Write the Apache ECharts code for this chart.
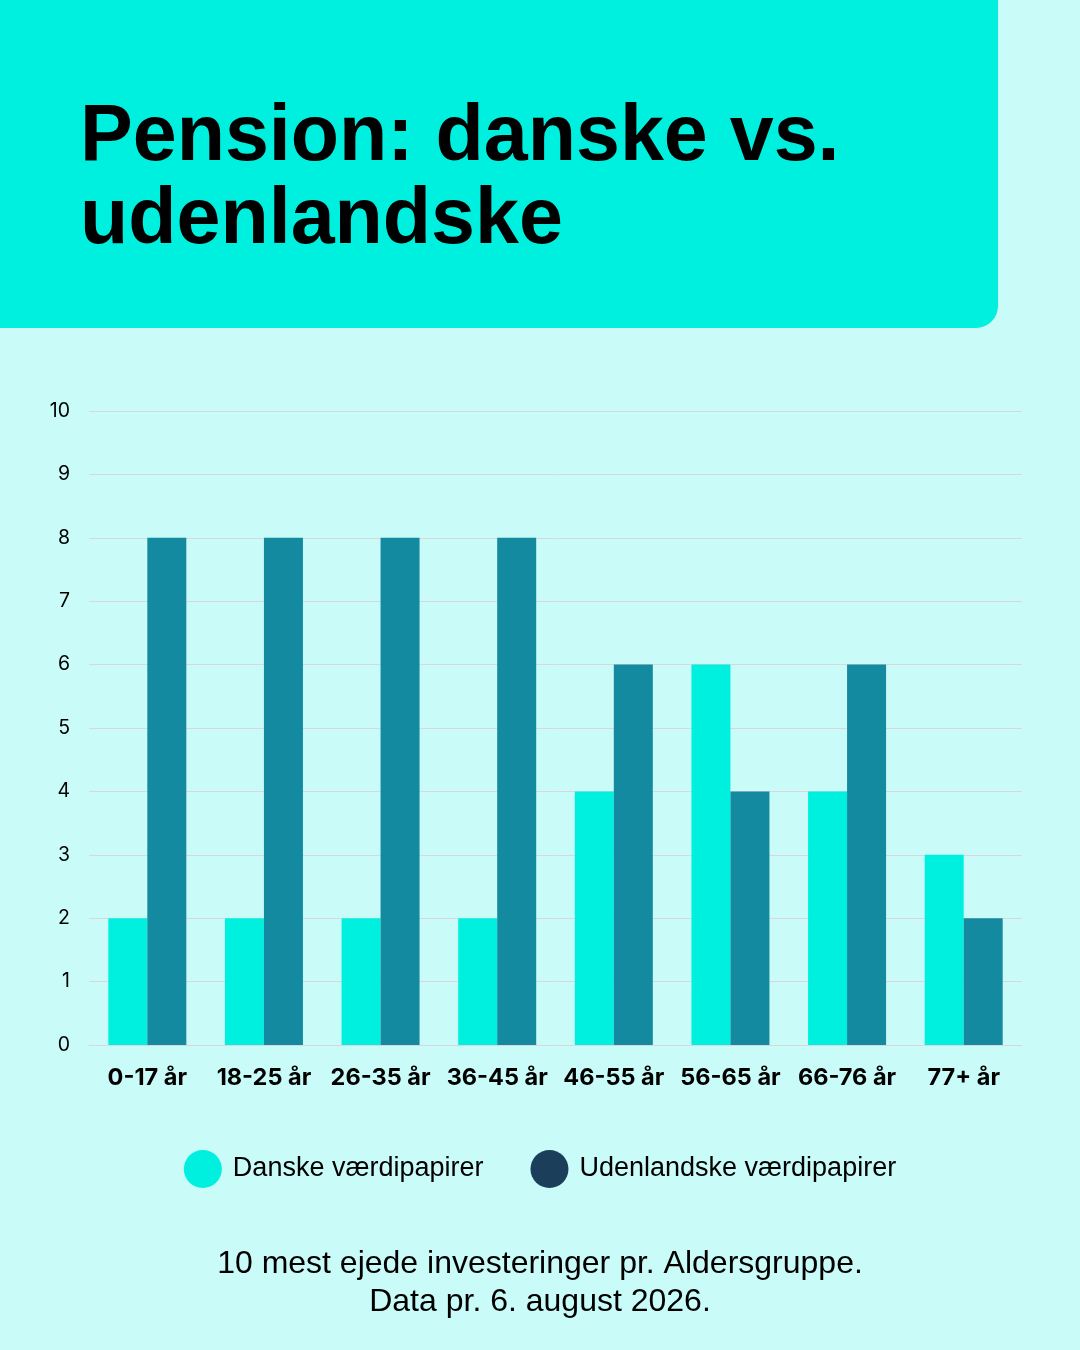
<!DOCTYPE html>
<html>
<head>
<meta charset="utf-8">
<script src="https://cdn.jsdelivr.net/npm/echarts@6/dist/echarts.min.js"></script>
<style>
  html, body { margin: 0; padding: 0; background: #c9fbf8; }
  #chart { width: 1080px; height: 1350px; }
</style>
</head>
<body>
<div id="chart"></div>
<script>
// aldersgrupper
const categories = ['0-17 år', '18-25 år', '26-35 år', '36-45 år', '46-55 år', '56-65 år', '66-76 år', '77+ år']
const danske = [2, 2, 2, 2, 4, 6, 4, 3]
const udenlandske = [8, 8, 8, 8, 6, 4, 6, 2]
const yTicks = [0, 1, 2, 3, 4, 5, 6, 7, 8, 9, 10]

const cyan = '#00f0e0'
const teal = '#138a9f'

let chart = echarts.init(document.getElementById('chart'))
let option = {
  backgroundColor: '#c9fbf8',
  animation: false,
  graphic: [
    {
      type: 'rect',
      left: 0,
      top: 0,
      shape: { width: 998, height: 328, r: [0, 0, 22, 0] },
      style: { fill: cyan },
      z: -1
    },
    {
      type: 'text',
      x: 80,
      y: 97,
      style: {
        text: 'Pension: danske vs.\nudenlandske',
        font: 'bold 79px "Liberation Sans", Arial, sans-serif',
        lineHeight: 83,
        fill: '#000'
      }
    },
    {
      type: 'text',
      x: 540,
      y: 1245,
      style: {
        text: '10 mest ejede investeringer pr. Aldersgruppe.\nData pr. 6. august 2026.',
        font: '32px "Liberation Sans", Arial, sans-serif',
        lineHeight: 38,
        align: 'center',
        fill: '#000'
      }
    }
  ],
  legend: {
    top: 1145,
    left: 'center',
    itemWidth: 38,
    itemHeight: 38,
    itemGap: 47,
    icon: 'circle',
    textStyle: {
      fontFamily: '"Liberation Sans", Arial, sans-serif',
      fontSize: 27,
      color: '#000',
      padding: [0, 0, 0, 6]
    },
    data: [
      { name: 'Danske værdipapirer', itemStyle: { color: cyan } },
      { name: 'Udenlandske værdipapirer', itemStyle: { color: '#1b3f5a' } }
    ]
  },
  grid: {
    left: 89,
    right: 58,
    top: 411,
    bottom: 305,
    containLabel: false
  },
  xAxis: {
    type: 'category',
    data: categories,
    axisLine: { show: true, lineStyle: { color: '#ddd5da' } },
    axisTick: { show: false },
    axisLabel: {
      interval: 0,
      hideOverlap: false,
      margin: 21,
      fontFamily: 'Inter, sans-serif',
      fontWeight: 'bold',
      fontSize: 23.5,
      color: '#000'
    }
  },
  yAxis: {
    type: 'value',
    min: yTicks[0],
    max: yTicks[yTicks.length - 1],
    interval: 1,
    axisLine: { show: false },
    axisTick: { show: false },
    splitLine: { lineStyle: { color: '#ddd5da', width: 1 } },
    axisLabel: {
      margin: 19,
      fontFamily: 'Inter, sans-serif',
      fontSize: 19.5,
      color: '#000'
    }
  },
  series: [
    {
      name: 'Danske værdipapirer',
      type: 'bar',
      data: danske,
      barWidth: 39,
      barGap: '0%',
      itemStyle: { color: cyan }
    },
    {
      name: 'Udenlandske værdipapirer',
      type: 'bar',
      data: udenlandske,
      barWidth: 39,
      barGap: '0%',
      itemStyle: { color: teal }
    }
  ]
}

chart.setOption(option)
</script>
</body>
</html>
